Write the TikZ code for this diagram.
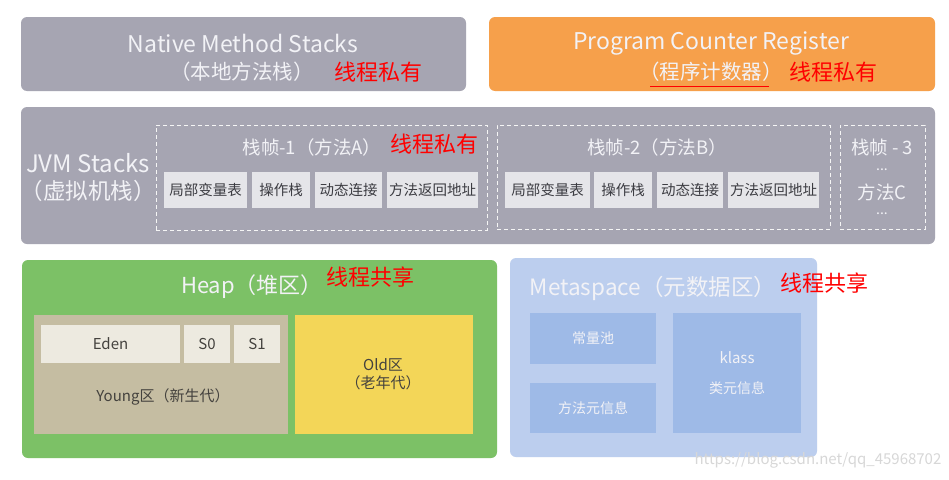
\documentclass[tikz,border=0pt]{standalone}
\usepackage{fontspec}
\setmainfont{Noto Sans CJK SC}
\usetikzlibrary{fit}
\definecolor{graybox}{RGB}{166,165,178}
\definecolor{cellgray}{RGB}{229,229,233}
\definecolor{celltext}{RGB}{60,60,66}
\definecolor{orangebox}{RGB}{246,160,75}
\definecolor{greenbox}{RGB}{124,193,102}
\definecolor{tanbox}{RGB}{197,189,162}
\definecolor{edencell}{RGB}{237,234,224}
\definecolor{yellowbox}{RGB}{243,214,88}
\definecolor{metabox}{RGB}{188,206,238}
\definecolor{metainner}{RGB}{158,186,231}
\definecolor{lighttext}{RGB}{242,242,246}
\definecolor{darktext}{RGB}{68,66,62}
\definecolor{wmark}{RGB}{215,215,215}
\newcommand{\fs}[1]{\fontsize{#1}{#1}\selectfont}
\begin{document}
\begin{tikzpicture}[x=1pt,y=-1pt,
  region/.style={inner sep=0pt, rounded corners=6pt, draw=none},
  plain/.style={inner sep=0pt, draw=none},
  sized/.style 2 args={inner sep=0pt, minimum width=#1pt, minimum height=#2pt},
  title/.style={inner sep=0pt, text=lighttext, font=\fs{23}},
  sub/.style={inner sep=0pt, text=lighttext, font=\fs{20.5}},
  redlbl/.style={inner sep=0pt, text=red, font=\fs{22}},
  cellbox/.style={fill=cellgray, text=celltext, font=\fs{14.5}},
  edenbox/.style={fill=edencell, text=darktext, font=\fs{15}},
  metacell/.style={fill=metainner, text=lighttext, font=\fs{14}},
  frame/.style={inner sep=0pt, draw=white!92!gray, line width=0.9pt, dash pattern=on 4pt off 3pt},
  ftitle/.style={inner sep=0pt, text=lighttext, font=\fs{18.5}},
  dotslbl/.style={inner sep=0pt, text=lighttext, font=\fs{14}, text height=2pt, text depth=0pt},
  darklbl/.style={inner sep=0pt, text=darktext, font=\fs{15}},
  metalbl/.style={inner sep=0pt, text=lighttext, font=\fs{14}}]
\path[fill=white] (0,0) rectangle (949,479);

% Native Method Stacks
\node[region, fill=graybox, fit={(21,17) (466,91)}] (native) {};
\node[title] (nativeT) at (243,43) {Native Method Stacks};
\node[sub] (nativeC) at (242,72) {（本地方法栈）};
\node[redlbl] (nativeR) at (378,72) {线程私有};

% Program Counter Register
\node[region, fill=orangebox, fit={(489,17) (935,91)}] (pc) {};
\node[title] (pcT) at (711,43) {Program Counter Register};
\node[sub] (pcC) at (711,72) {（程序计数器）};
\node[redlbl] (pcR) at (833,72) {线程私有};
\coordinate (ulA) at (650,86);
\coordinate (ulB) at (769,86);
\draw[red, line width=1pt] (ulA) -- (ulB);

% JVM Stacks
\node[region, fill=graybox, fit={(21,107) (935,244)}] (jvm) {};
\node[title, font=\fs{24}] (jvmT) at (88,163) {JVM Stacks};
\node[sub, font=\fs{22.5}] (jvmC) at (88,191) {（虚拟机栈）};

\node[frame, fit={(156,125) (487,230)}] (f1) {};
\node[ftitle] (f1T) at (312,147) {栈帧-1（方法A）};
\node[redlbl] (f1R) at (434,144) {线程私有};
\node[cellbox, sized={83}{36}] (c11) at (205.5,190) {局部变量表};
\node[cellbox, sized={58}{36}] (c12) at (281,190) {操作栈};
\node[cellbox, sized={67}{36}] (c13) at (348.5,190) {动态连接};
\node[cellbox, sized={91}{36}] (c14) at (432.5,190) {方法返回地址};

\node[frame, fit={(497,125) (830,229)}] (f2) {};
\node[ftitle] (f2T) at (657,147) {栈帧-2（方法B）};
\node[cellbox, sized={85}{36}] (c21) at (547.5,190) {局部变量表};
\node[cellbox, sized={58}{36}] (c22) at (623,190) {操作栈};
\node[cellbox, sized={66}{36}] (c23) at (690,190) {动态连接};
\node[cellbox, sized={91}{36}] (c24) at (773.5,190) {方法返回地址};

\node[frame, fit={(840,125) (925,229)}] (f3) {};
\node[ftitle] (f3T) at (882,147) {栈帧 - 3};
\node[dotslbl] (f3d1) at (882,169) {...};
\node[ftitle] (f3C) at (882,192) {方法C};
\node[dotslbl] (f3d2) at (882,213) {...};

% Heap
\node[region, fill=greenbox, fit={(22,260) (497,458)}] (heap) {};
\node[title, font=\fs{22}] (heapT) at (252,287) {Heap（堆区）};
\node[redlbl] (heapR) at (370,277) {线程共享};
\node[plain, fill=tanbox, fit={(34,315) (288,434)}] (young) {};
\node[edenbox, sized={139}{38}] (eden) at (110.5,344) {Eden};
\node[edenbox, sized={46}{38}] (s0) at (207,344) {S0};
\node[edenbox, sized={46}{38}] (s1) at (257,344) {S1};
\node[darklbl] (youngT) at (163,397) {Young区（新生代）};
\node[plain, fill=yellowbox, fit={(295,315) (473,434)}] (old) {};
\node[darklbl] (oldT) at (383,365) {Old区};
\node[darklbl] (oldC) at (383,383) {（老年代）};

% Metaspace
\node[region, fill=metabox, fit={(510,258) (817,457)}] (meta) {};
\node[title, font=\fs{22.5}] (metaT) at (653,288) {Metaspace（元数据区）};
\node[redlbl] (metaR) at (824,283) {线程共享};
\node[metacell, sized={126}{51}] (pool) at (593,338.5) {常量池};
\node[metacell, sized={126}{50}] (minfo) at (593,408) {方法元信息};
\node[plain, fill=metainner, fit={(673,313) (801,433)}] (klass) {};
\node[metalbl, font=\fs{15}] (klassT) at (737,358) {klass};
\node[metalbl] (klassC) at (737,388) {类元信息};

% watermark
\node[inner sep=0pt, text=wmark, font=\fs{15}] (wm) at (818,460) {https://blog.csdn.net/qq\_45968702};
\end{tikzpicture}
\end{document}
